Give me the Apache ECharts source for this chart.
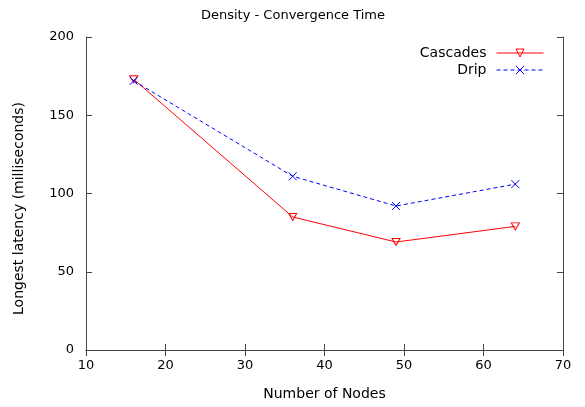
<!DOCTYPE html>
<html><head><meta charset="utf-8">
<script src="https://cdn.jsdelivr.net/npm/echarts@6/dist/echarts.min.js"></script>
<style>html,body{margin:0;padding:0;background:#fff}#c{width:585px;height:407px}</style>
</head><body><div id="c"></div>
<script>
const nodes = [16, 36, 49, 64];
const cascades = [173, 85, 69, 79];
const drip = [172, 111, 92, 106];
const xTicks = [10, 20, 30, 40, 50, 60, 70];
const yTicks = [0, 50, 100, 150, 200];

const FONT = 'DejaVu Sans';
const axisCol = '#444';
const RED = '#ff0000', BLUE = '#0000ff';
const chart = echarts.init(document.getElementById('c'), null, {renderer: 'canvas'});
const pair = arr => nodes.map((x, i) => [x, arr[i]]);
const TRI = 'path://M0,0L10,0L5,9Z';
const CROSS = 'path://M0,0L10,10M10,0L0,10';
const baseX = {
  type: 'value', min: xTicks[0], max: xTicks[xTicks.length - 1], interval: 10,
  axisLine: {show: true, lineStyle: {color: axisCol, width: 1}},
  axisTick: {show: true, inside: true, length: 6, lineStyle: {color: axisCol}},
  splitLine: {show: false}
};
const baseY = {
  type: 'value', min: yTicks[0], max: yTicks[yTicks.length - 1], interval: 50,
  axisLine: {show: true, lineStyle: {color: axisCol, width: 1}},
  axisTick: {show: true, inside: true, length: 6, lineStyle: {color: axisCol}},
  splitLine: {show: false}
};
chart.setOption({
  animation: false,
  title: {text: 'Density - Convergence Time', left: 288, textAlign: 'center', top: 4,
    textStyle: {fontFamily: FONT, fontSize: 13, fontWeight: 'normal', color: '#000'}},
  grid: {left: 86, right: 22, top: 37, bottom: 57},
  legend: {
    orient: 'vertical', right: 36, top: 41, align: 'right', itemWidth: 47, itemHeight: 10, itemGap: 3,
    textStyle: {fontFamily: FONT, fontSize: 14, color: '#000', padding: [0, 5, 0, 0]},
    data: [
      {name: 'Cascades',
        itemStyle: {color: 'rgba(0,0,0,0)', borderColor: RED, borderWidth: 1},
        lineStyle: {color: RED, width: 1, type: 'solid'}},
      {name: 'Drip',
        itemStyle: {color: 'rgba(0,0,0,0)', borderColor: BLUE, borderWidth: 1},
        lineStyle: {color: BLUE, width: 1, type: [4, 3]}}
    ]
  },
  xAxis: [
    Object.assign({}, baseX, {position: 'bottom', name: 'Number of Nodes', nameLocation: 'middle', nameGap: 37,
      nameTextStyle: {fontFamily: FONT, fontSize: 14, color: '#000'},
      axisLabel: {fontFamily: FONT, fontSize: 13, color: '#000', margin: 9}}),
    Object.assign({}, baseX, {position: 'top', axisLabel: {show: false}})
  ],
  yAxis: [
    Object.assign({}, baseY, {position: 'left', name: 'Longest latency (milliseconds)', nameLocation: 'middle', nameGap: 60,
      nameTextStyle: {fontFamily: FONT, fontSize: 14, color: '#000', padding: [0, 30, 0, 0]},
      axisLabel: {fontFamily: FONT, fontSize: 13, color: '#000', margin: 12}}),
    Object.assign({}, baseY, {position: 'right', axisLabel: {show: false}})
  ],
  series: [
    {name: 'Cascades', type: 'line', data: pair(cascades), xAxisIndex: 0, yAxisIndex: 0,
      color: RED, symbol: TRI, symbolSize: [8, 7],
      lineStyle: {color: RED, width: 1},
      itemStyle: {color: 'rgba(0,0,0,0)', borderColor: RED, borderWidth: 1}},
    {name: 'Drip', type: 'line', data: pair(drip), xAxisIndex: 0, yAxisIndex: 0,
      color: BLUE, symbol: CROSS, symbolSize: 8,
      lineStyle: {color: BLUE, width: 1, type: [4, 3]},
      itemStyle: {color: 'rgba(0,0,0,0)', borderColor: BLUE, borderWidth: 1}}
  ]
});
</script></body></html>
